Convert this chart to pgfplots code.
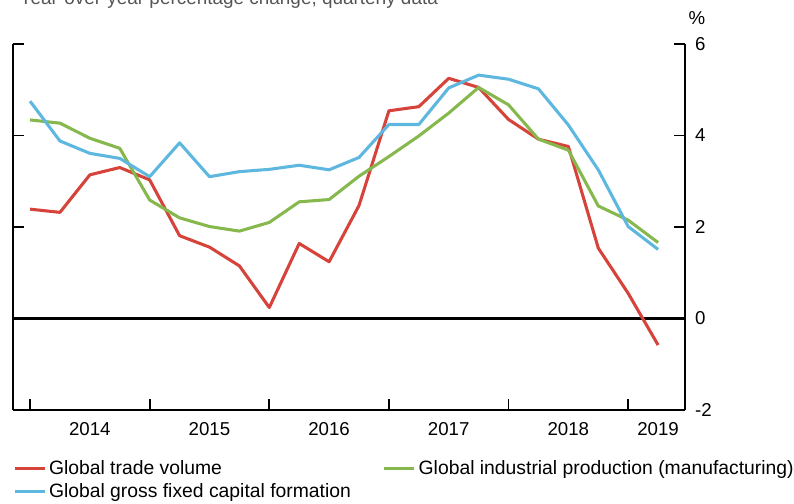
\documentclass[border=0pt]{standalone}
\usepackage{fontspec}
\setmainfont{Liberation Sans}
\usepackage{pgfplots}
\pgfplotsset{compat=1.18}
\definecolor{tradered}{HTML}{D6433B}
\definecolor{indgreen}{HTML}{86B84D}
\definecolor{capblue}{HTML}{5DB7DF}
\definecolor{titlegray}{HTML}{555555}

\begin{document}
\begin{tikzpicture}
\useasboundingbox (-9.75pt,-70.5pt) rectangle (585.75pt,307.5pt);
% left axis line with inward ticks, no labels
\begin{axis}[
  at={(0,0)}, anchor=south west, scale only axis,
  width=504pt, height=274.5pt,
  xmin=-0.57, xmax=21.9, ymin=-2, ymax=6,
  axis x line=none, axis y line*=left,
  axis line style={line width=1.4pt, black},
  ytick={-2,0,2,4,6}, yticklabels={},
  tick align=inside, major tick length=8pt,
  tick style={line width=1.4pt, black},
]
\end{axis}
\begin{axis}[
  at={(0,0)}, anchor=south west, scale only axis,
  width=504pt, height=274.5pt,
  xmin=-0.57, xmax=21.9, ymin=-2, ymax=6,
  axis x line*=bottom, axis y line*=right,
  axis line style={line width=1.4pt, black},
  ytick={-2,0,2,4,6},
  xtick={0,4,8,12,16,20}, xticklabels={},
  extra x ticks={2,6,10,14,18,21},
  extra x tick labels={2014,2015,2016,2017,2018,2019},
  extra x tick style={major tick length=0pt, tick style={draw=none}},
  tick align=inside, major tick length=8pt,
  tick style={line width=1.4pt, black},
  /pgf/number format/assume math mode=true,
  ticklabel style={font=\fontsize{14}{16.8}\selectfont},
  xticklabel style={yshift=-6pt},
  yticklabel style={xshift=4pt},
  legend style={at={(axis description cs:0,0)}, anchor=north west,
    xshift=0pt, yshift=-36pt, draw=none, fill=none,
    font=\fontsize{14.5}{17.4}\selectfont, legend columns=2,
    inner xsep=0pt, inner ysep=0pt, row sep=1pt,
    /tikz/every even column/.append style={column sep=22pt}},
  legend cell align=left,
  legend image code/.code={\draw[#1, line width=2.3pt] (0pt,0pt) -- (22.5pt,0pt);},
]
\draw[black, line width=1.7pt] (rel axis cs:0,0.25) -- (rel axis cs:1,0.25);
\addplot[tradered, line width=2.3pt, line join=round] coordinates {
  (0,2.39)(1,2.32)(2,3.14)(3,3.30)(4,3.03)(5,1.81)(6,1.56)(7,1.15)
  (8,0.24)(9,1.64)(10,1.24)(11,2.47)(12,4.54)(13,4.63)(14,5.25)(15,5.05)
  (16,4.35)(17,3.92)(18,3.76)(19,1.54)(20,0.55)(21,-0.58)
};
\addlegendentry{Global trade volume}
\addplot[indgreen, line width=2.3pt, line join=round] coordinates {
  (0,4.34)(1,4.27)(2,3.94)(3,3.72)(4,2.59)(5,2.20)(6,2.01)(7,1.91)
  (8,2.10)(9,2.55)(10,2.60)(11,3.11)(12,3.54)(13,3.99)(14,4.49)(15,5.05)
  (16,4.67)(17,3.92)(18,3.68)(19,2.46)(20,2.15)(21,1.66)
};
\addlegendentry{Global industrial production (manufacturing)}
\addplot[capblue, line width=2.3pt, line join=round] coordinates {
  (0,4.75)(1,3.88)(2,3.61)(3,3.50)(4,3.10)(5,3.84)(6,3.10)(7,3.21)
  (8,3.26)(9,3.35)(10,3.25)(11,3.52)(12,4.24)(13,4.24)(14,5.04)(15,5.32)
  (16,5.23)(17,5.02)(18,4.23)(19,3.25)(20,2.01)(21,1.51)
};
\addlegendentry{Global gross fixed capital formation}
\end{axis}
\node[anchor=base west, text=titlegray, font=\fontsize{14.2}{17}\selectfont]
  at (1.5pt,303.75pt) {Year-over-year percentage change, quarterly data};
\node[anchor=base, font=\fontsize{14}{16.8}\selectfont] at (513pt,289pt) {\%};
\end{tikzpicture}
\end{document}
